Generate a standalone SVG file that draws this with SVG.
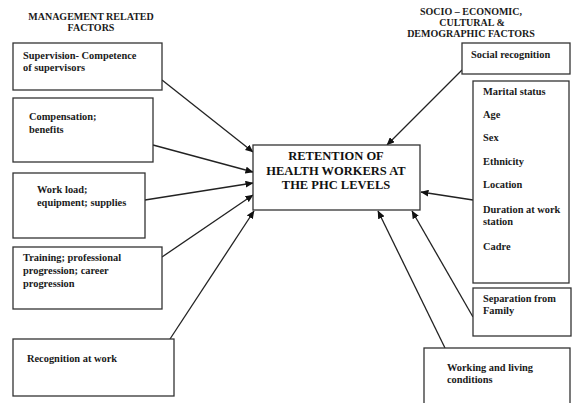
<svg xmlns="http://www.w3.org/2000/svg" width="573" height="403" viewBox="0 0 573 403">
<style>
.box{fill:#fff;stroke:#333;stroke-width:1.3}
.t{font-family:"Liberation Serif","DejaVu Serif",serif;font-weight:bold;font-size:10.4px;fill:#1a1a1a}
.h{font-family:"Liberation Serif","DejaVu Serif",serif;font-weight:bold;font-size:10px;fill:#1a1a1a;text-anchor:middle}
.c{font-family:"Liberation Serif","DejaVu Serif",serif;font-weight:bold;font-size:12.5px;fill:#111;text-anchor:middle}
.ln{stroke:#222;stroke-width:1.3;fill:none;marker-end:url(#ah)}
</style>
<defs>
<marker id="ah" markerWidth="8" markerHeight="7" refX="7.5" refY="3.5" orient="auto" markerUnits="userSpaceOnUse">
<path d="M0,0 L8,3.5 L0,7 Z" fill="#111"/>
</marker>
</defs>
<rect width="573" height="403" fill="#fff"/>
<g id="titles">
<text class="h" x="91" y="20">MANAGEMENT RELATED</text>
<text class="h" x="91" y="31">FACTORS</text>
<text class="h" x="471" y="15">SOCIO – ECONOMIC,</text>
<text class="h" x="472" y="26">CULTURAL &amp;</text>
<text class="h" x="471" y="37">DEMOGRAPHIC FACTORS</text>
</g>
<g id="connectors">
<line class="ln" x1="162" y1="80" x2="253" y2="152"/>
<line class="ln" x1="153" y1="145" x2="253" y2="172"/>
<line class="ln" x1="145" y1="200" x2="253" y2="183"/>
<line class="ln" x1="162" y1="257" x2="253" y2="195"/>
<line class="ln" x1="170" y1="339" x2="254" y2="211"/>
<line class="ln" x1="462" y1="70" x2="387" y2="145"/>
<line class="ln" x1="473" y1="200" x2="421" y2="192"/>
<line class="ln" x1="473" y1="317" x2="412" y2="211"/>
<line class="ln" x1="445" y1="348" x2="378" y2="211"/>
</g>
<g id="supervision">
<rect class="box" x="13" y="43" width="149" height="47"/>
<text class="t" x="23" y="59">Supervision- Competence</text>
<text class="t" x="23" y="71">of supervisors</text>
</g>
<g id="compensation">
<rect class="box" x="13" y="98" width="140" height="64"/>
<text class="t" x="29" y="120">Compensation;</text>
<text class="t" x="29" y="133">benefits</text>
</g>
<g id="workload">
<rect class="box" x="13" y="173" width="132" height="65"/>
<text class="t" x="37" y="193">Work load;</text>
<text class="t" x="37" y="206">equipment; supplies</text>
</g>
<g id="training">
<rect class="box" x="13" y="247" width="149" height="62"/>
<text class="t" x="23" y="261">Training; professional</text>
<text class="t" x="23" y="274">progression; career</text>
<text class="t" x="23" y="287">progression</text>
</g>
<g id="recognition">
<rect class="box" x="13" y="339" width="161" height="57"/>
<text class="t" x="27" y="362">Recognition at work</text>
</g>
<g id="retention">
<rect class="box" x="253" y="145" width="167" height="65"/>
<text class="c" x="336" y="160">RETENTION OF</text>
<text class="c" x="336" y="175">HEALTH WORKERS AT</text>
<text class="c" x="336" y="189">THE PHC LEVELS</text>
</g>
<g id="social">
<rect class="box" x="462" y="43" width="108" height="31"/>
<text class="t" x="471" y="58">Social recognition</text>
</g>
<g id="demographic">
<rect class="box" x="473" y="81" width="96" height="202"/>
<text class="t" x="483" y="95">Marital status</text>
<text class="t" x="483" y="118">Age</text>
<text class="t" x="483" y="141">Sex</text>
<text class="t" x="483" y="165">Ethnicity</text>
<text class="t" x="483" y="188">Location</text>
<text class="t" x="483" y="213">Duration at work</text>
<text class="t" x="483" y="225">station</text>
<text class="t" x="483" y="250">Cadre</text>
</g>
<g id="separation">
<rect class="box" x="473" y="288" width="98" height="48"/>
<text class="t" x="483" y="302">Separation from</text>
<text class="t" x="483" y="314">Family</text>
</g>
<g id="working">
<rect class="box" x="424" y="348" width="146" height="60"/>
<text class="t" x="447" y="371">Working and living</text>
<text class="t" x="447" y="383">conditions</text>
</g>
</svg>
